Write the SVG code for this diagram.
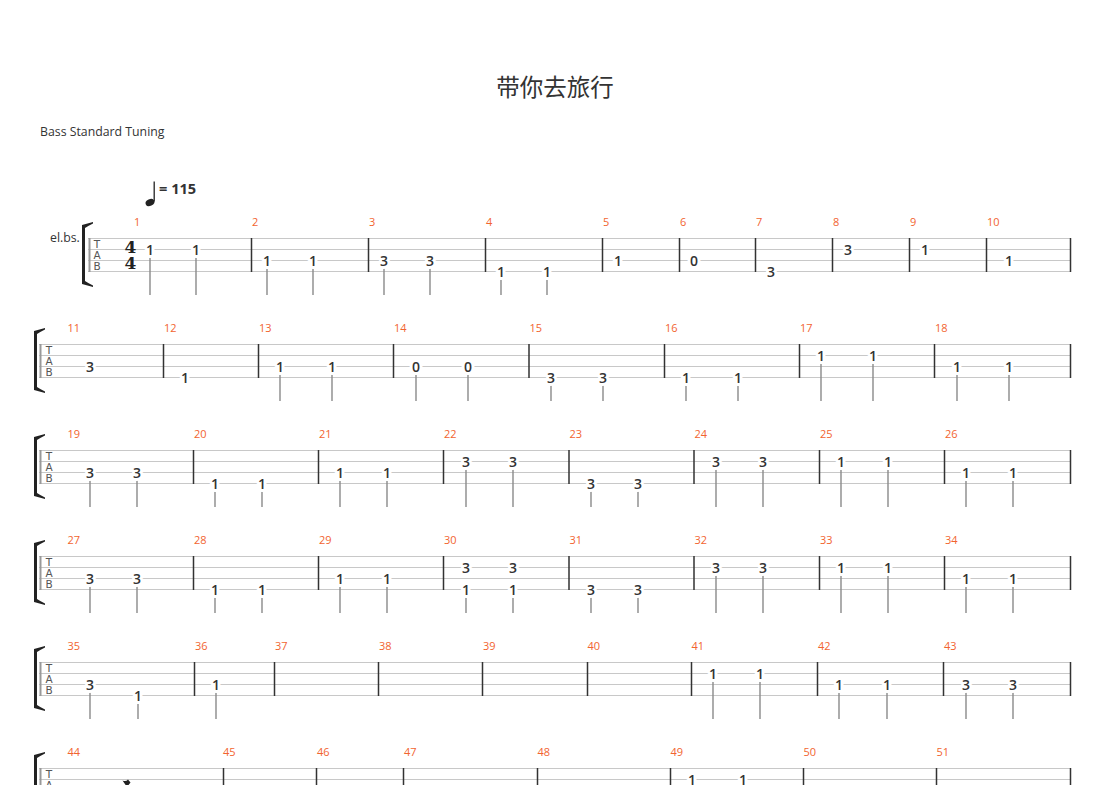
<svg xmlns="http://www.w3.org/2000/svg" width="1110" height="785" viewBox="0 0 1110 785">
<style>
.sl{stroke:#c8c8c8;stroke-width:1;fill:none}
.bl{stroke:#333;stroke-width:1.5;fill:none}
.sb{stroke:#999;stroke-width:2;fill:none}
.st{stroke:#8a8a8a;stroke-width:1.4;fill:none}
.br{fill:#222}
.n{font-family:'Open Sans','Noto Sans',sans-serif;font-size:14px;font-weight:600;fill:#333;text-anchor:middle;stroke:#fff;stroke-width:6px;paint-order:stroke;stroke-linejoin:round}
.mn{font-family:'Open Sans','Noto Sans',sans-serif;font-size:11px;fill:#f2642f}
.tab{font-family:'DejaVu Sans',sans-serif;font-size:10.5px;fill:#555;text-anchor:middle}
.lbl{font-family:'Open Sans','Noto Sans',sans-serif;font-size:12.3px;fill:#333}
</style>
<rect width="1110" height="785" fill="#fff"/>
<g id="header">
<text x="555" y="96" text-anchor="middle" font-family="'Noto Sans CJK SC','Noto Sans',sans-serif" font-size="23.5" fill="#333">带你去旅行</text>
<text class="lbl" x="40" y="136">Bass Standard Tuning</text>
<g id="tempo">
<ellipse cx="150" cy="202.5" rx="4.6" ry="3.4" transform="rotate(-25 150 202.5)" fill="#222"/>
<line x1="154.2" y1="201.5" x2="154.2" y2="181.5" stroke="#222" stroke-width="1.3"/>
<text x="159" y="194" font-family="'Open Sans','Noto Sans',sans-serif" font-size="14.6" font-weight="700" fill="#333">= 115</text>
</g>
</g>

<g id="system1">
<text class="lbl" x="50" y="242">el.bs.</text>
<path class="br" d="M82 225 L93 222 L93 223.5 Q88 226 85 228 L85 281 Q88 283 93 285.5 L93 287 L82 284 Z"/>
<path class="sl" d="M88 238.5H1071M88 249.5H1071M88 260.5H1071M88 271.5H1071"/>
<path class="sb" d="M89.5 238V272"/>
<path class="bl" d="M251.5 238V272M368.5 238V272M485.5 238V272M602.5 238V272M679.5 238V272M755.5 238V272M832.5 238V272M909.5 238V272M986.5 238V272M1070.5 238V272"/>
<text class="tab" x="97" y="248">T</text><text class="tab" x="97" y="259">A</text><text class="tab" x="97" y="270">B</text>
<text x="130.5" y="253" text-anchor="middle" font-family="'DejaVu Serif',serif" font-size="17" font-weight="700" fill="#222">4</text>
<text x="130.5" y="269" text-anchor="middle" font-family="'DejaVu Serif',serif" font-size="17" font-weight="700" fill="#222">4</text>
<g class="mnums">
<text class="mn" x="134" y="226">1</text><text class="mn" x="252" y="226">2</text><text class="mn" x="369" y="226">3</text><text class="mn" x="486" y="226">4</text><text class="mn" x="603" y="226">5</text><text class="mn" x="680" y="226">6</text><text class="mn" x="756" y="226">7</text><text class="mn" x="833" y="226">8</text><text class="mn" x="910" y="226">9</text><text class="mn" x="987" y="226">10</text>
</g>
<path class="st" d="M150 256V295M196 256V295M267 267V295M313 267V295M384 267V295M430 267V295M501 278V295M547 278V295"/>
<text class="n" x="150" y="254.5">1</text><text class="n" x="196" y="254.5">1</text>
<text class="n" x="267" y="265.5">1</text><text class="n" x="313" y="265.5">1</text>
<text class="n" x="384" y="265.5">3</text><text class="n" x="430" y="265.5">3</text>
<text class="n" x="501" y="276.5">1</text><text class="n" x="547" y="276.5">1</text>
<text class="n" x="618" y="265.5">1</text>
<text class="n" x="694" y="265.5">0</text>
<text class="n" x="771" y="276.5">3</text>
<text class="n" x="848" y="254.5">3</text>
<text class="n" x="925" y="254.5">1</text>
<text class="n" x="1009" y="265.5">1</text>
</g>

<g id="system2">
<path class="br" d="M34 331 L45 328 L45 329.5 Q40 332 37 334 L37 387 Q40 389 45 391.5 L45 393 L34 390 Z"/>
<path class="sl" d="M39 344.5H1071M39 355.5H1071M39 366.5H1071M39 377.5H1071"/>
<path class="sb" d="M40.5 344V378"/>
<path class="bl" d="M163.5 344V378M258.5 344V378M393.5 344V378M529 344V378M664.5 344V378M799.5 344V378M934.5 344V378M1070.5 344V378"/>
<text class="tab" x="49" y="354">T</text><text class="tab" x="49" y="365">A</text><text class="tab" x="49" y="376">B</text>
<text class="mn" x="67.5" y="332">11</text><text class="mn" x="164" y="332">12</text><text class="mn" x="259" y="332">13</text><text class="mn" x="394" y="332">14</text><text class="mn" x="529.5" y="332">15</text><text class="mn" x="665" y="332">16</text><text class="mn" x="800" y="332">17</text><text class="mn" x="935" y="332">18</text>
<path class="st" d="M280 373V401M332 373V401M416 373V401M468 373V401M551 384V401M603 384V401M686 384V401M738 384V401M821 362V401M873 362V401M957 373V401M1009 373V401"/>
<text class="n" x="90" y="371.5">3</text>
<text class="n" x="185" y="382.5">1</text>
<text class="n" x="280" y="371.5">1</text><text class="n" x="332" y="371.5">1</text>
<text class="n" x="416" y="371.5">0</text><text class="n" x="468" y="371.5">0</text>
<text class="n" x="551" y="382.5">3</text><text class="n" x="603" y="382.5">3</text>
<text class="n" x="686" y="382.5">1</text><text class="n" x="738" y="382.5">1</text>
<text class="n" x="821" y="360.5">1</text><text class="n" x="873" y="360.5">1</text>
<text class="n" x="957" y="371.5">1</text><text class="n" x="1009" y="371.5">1</text>
</g>

<g id="system3">
<path class="br" d="M34 437 L45 434 L45 435.5 Q40 438 37 440 L37 493 Q40 495 45 497.5 L45 499 L34 496 Z"/>
<path class="sl" d="M39 450.5H1071M39 461.5H1071M39 472.5H1071M39 483.5H1071"/>
<path class="sb" d="M40.5 450V484"/>
<path class="bl" d="M193.5 450V484M318.5 450V484M443.5 450V484M569 450V484M694 450V484M819.5 450V484M944.5 450V484M1070.5 450V484"/>
<text class="tab" x="49" y="460">T</text><text class="tab" x="49" y="471">A</text><text class="tab" x="49" y="482">B</text>
<text class="mn" x="67.5" y="438">19</text><text class="mn" x="194" y="438">20</text><text class="mn" x="319" y="438">21</text><text class="mn" x="444" y="438">22</text><text class="mn" x="569.5" y="438">23</text><text class="mn" x="694.5" y="438">24</text><text class="mn" x="820" y="438">25</text><text class="mn" x="945" y="438">26</text>
<path class="st" d="M90 479V507M137 479V507M215 490V507M262 490V507M340 479V507M387 479V507M466 468V507M513 468V507M591 490V507M638 490V507M716 468V507M763 468V507M841 468V507M888 468V507M966 479V507M1013 479V507"/>
<text class="n" x="90" y="477.5">3</text><text class="n" x="137" y="477.5">3</text>
<text class="n" x="215" y="488.5">1</text><text class="n" x="262" y="488.5">1</text>
<text class="n" x="340" y="477.5">1</text><text class="n" x="387" y="477.5">1</text>
<text class="n" x="466" y="466.5">3</text><text class="n" x="513" y="466.5">3</text>
<text class="n" x="591" y="488.5">3</text><text class="n" x="638" y="488.5">3</text>
<text class="n" x="716" y="466.5">3</text><text class="n" x="763" y="466.5">3</text>
<text class="n" x="841" y="466.5">1</text><text class="n" x="888" y="466.5">1</text>
<text class="n" x="966" y="477.5">1</text><text class="n" x="1013" y="477.5">1</text>
</g>

<g id="system4">
<path class="br" d="M34 543 L45 540 L45 541.5 Q40 544 37 546 L37 599 Q40 601 45 603.5 L45 605 L34 602 Z"/>
<path class="sl" d="M39 556.5H1071M39 567.5H1071M39 578.5H1071M39 589.5H1071"/>
<path class="sb" d="M40.5 556V590"/>
<path class="bl" d="M193.5 556V590M318.5 556V590M443.5 556V590M569 556V590M694 556V590M819.5 556V590M944.5 556V590M1070.5 556V590"/>
<text class="tab" x="49" y="566">T</text><text class="tab" x="49" y="577">A</text><text class="tab" x="49" y="588">B</text>
<text class="mn" x="67.5" y="544">27</text><text class="mn" x="194" y="544">28</text><text class="mn" x="319" y="544">29</text><text class="mn" x="444" y="544">30</text><text class="mn" x="569.5" y="544">31</text><text class="mn" x="694.5" y="544">32</text><text class="mn" x="820" y="544">33</text><text class="mn" x="945" y="544">34</text>
<path class="st" d="M90 585V613M137 585V613M215 596V613M262 596V613M340 585V613M387 585V613M466 596V613M513 596V613M591 596V613M638 596V613M716 574V613M763 574V613M841 574V613M888 574V613M966 585V613M1013 585V613"/>
<text class="n" x="90" y="583.5">3</text><text class="n" x="137" y="583.5">3</text>
<text class="n" x="215" y="594.5">1</text><text class="n" x="262" y="594.5">1</text>
<text class="n" x="340" y="583.5">1</text><text class="n" x="387" y="583.5">1</text>
<text class="n" x="466" y="572.5">3</text><text class="n" x="513" y="572.5">3</text>
<text class="n" x="466" y="594.5">1</text><text class="n" x="513" y="594.5">1</text>
<text class="n" x="591" y="594.5">3</text><text class="n" x="638" y="594.5">3</text>
<text class="n" x="716" y="572.5">3</text><text class="n" x="763" y="572.5">3</text>
<text class="n" x="841" y="572.5">1</text><text class="n" x="888" y="572.5">1</text>
<text class="n" x="966" y="583.5">1</text><text class="n" x="1013" y="583.5">1</text>
</g>

<g id="system5">
<path class="br" d="M34 649 L45 646 L45 647.5 Q40 650 37 652 L37 705 Q40 707 45 709.5 L45 711 L34 708 Z"/>
<path class="sl" d="M39 662.5H1071M39 673.5H1071M39 684.5H1071M39 695.5H1071"/>
<path class="sb" d="M40.5 662V696"/>
<path class="bl" d="M194.5 662V696M274.5 662V696M378.5 662V696M482.5 662V696M587.5 662V696M691.5 662V696M817.5 662V696M943.5 662V696M1070.5 662V696"/>
<text class="tab" x="49" y="672">T</text><text class="tab" x="49" y="683">A</text><text class="tab" x="49" y="694">B</text>
<text class="mn" x="67.5" y="650">35</text><text class="mn" x="195" y="650">36</text><text class="mn" x="275" y="650">37</text><text class="mn" x="379" y="650">38</text><text class="mn" x="483" y="650">39</text><text class="mn" x="587.5" y="650">40</text><text class="mn" x="691.5" y="650">41</text><text class="mn" x="818" y="650">42</text><text class="mn" x="944" y="650">43</text>
<path class="st" d="M90 691V719M138 702V719M216 691V719M713 680V719M760 680V719M839 691V719M887 691V719M966 691V719M1013 691V719"/>
<text class="n" x="90" y="689.5">3</text><text class="n" x="138" y="700.5">1</text>
<text class="n" x="216" y="689.5">1</text>
<text class="n" x="713" y="678.5">1</text><text class="n" x="760" y="678.5">1</text>
<text class="n" x="839" y="689.5">1</text><text class="n" x="887" y="689.5">1</text>
<text class="n" x="966" y="689.5">3</text><text class="n" x="1013" y="689.5">3</text>
</g>

<g id="system6">
<path class="br" d="M34 755 L45 752 L45 753.5 Q40 756 37 758 L37 811 Q40 813 45 815.5 L45 817 L34 814 Z"/>
<path class="sl" d="M39 768.5H1071M39 779.5H1071M39 790.5H1071M39 801.5H1071"/>
<path class="sb" d="M40.5 768V802"/>
<path class="bl" d="M223.5 768V802M316.5 768V802M403.5 768V802M537.5 768V802M670.5 768V802M803.5 768V802M936.5 768V802M1070.5 768V802"/>
<text class="tab" x="49" y="778">T</text><text class="tab" x="49" y="789">A</text><text class="tab" x="49" y="800">B</text>
<text class="mn" x="67.5" y="756">44</text><text class="mn" x="223" y="756">45</text><text class="mn" x="317" y="756">46</text><text class="mn" x="404" y="756">47</text><text class="mn" x="537.5" y="756">48</text><text class="mn" x="670.5" y="756">49</text><text class="mn" x="803.5" y="756">50</text><text class="mn" x="936.5" y="756">51</text>
<path d="M122.5 780.5 Q126 782 128 779.5 L130.5 782.5 L127 787 Z" fill="#222"/>
<path class="st" d="M692 786V825M743 786V825"/>
<text class="n" x="243.5" y="795.5">1</text>
<text class="n" x="338" y="795.5">0</text>
<text class="n" x="692" y="784.5">1</text><text class="n" x="743" y="784.5">1</text>
<text class="n" x="825" y="795.5">1</text><text class="n" x="876" y="795.5">1</text>
<text class="n" x="958" y="795.5">3</text><text class="n" x="1010" y="795.5">3</text>
</g>
</svg>
